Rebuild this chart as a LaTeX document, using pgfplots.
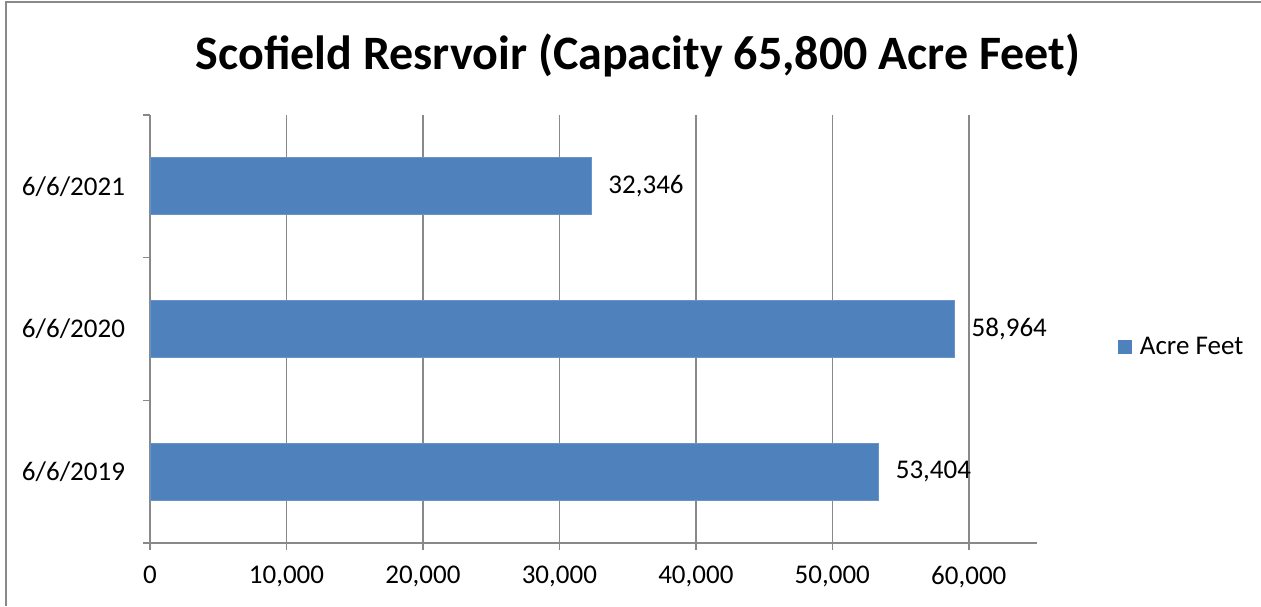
\documentclass[border=0pt]{standalone}
\usepackage{fontspec}
\setmainfont{Carlito}
\usepackage{pgfplots}
\pgfplotsset{compat=1.18}
\definecolor{barblue}{HTML}{4F81BD}
\definecolor{axgray}{HTML}{898989}

\begin{document}
\begin{tikzpicture}
  % page is 1261 x 606 px at 0.5pt per px
  \useasboundingbox (0,0) rectangle (630.5pt,303pt);
  \draw[axgray, line width=0.9pt] (3pt,0) -- (3pt,301.8pt) -- (630.5pt,301.8pt);
  \node[font=\fontsize{24}{29}\selectfont\bfseries] at (319pt,275.5pt)
    {Scofield Resrvoir (Capacity 65,800 Acre Feet)};
  \begin{axis}[
      at={(75pt,31.5pt)}, anchor=south west,
      scale only axis,
      width=443.5pt, height=214pt,
      xbar, bar width=28.5pt,
      xmin=0, xmax=65000,
      ymin=-0.5, ymax=2.5,
      axis x line=bottom, axis y line=left,
      axis line style={axgray, line width=0.8pt, -},
      xtick={0,10000,...,60000},
      ytick={0,1,2},
      yticklabels={6/6/2019, 6/6/2020, 6/6/2021},
      minor ytick={-0.5,0.5,1.5,2.5},
      major tick length=0pt,
      minor tick length=3.5pt,
      tick align=outside,
      extra x ticks={0,10000,...,60000},
      extra x tick labels={},
      extra x tick style={major tick length=3.5pt, grid=none},
      tick style={axgray, line width=0.8pt},
      xmajorgrids,
      grid style={axgray, line width=0.8pt},
      /pgf/number format/assume math mode=true,
      /pgf/number format/1000 sep={,},
      scaled x ticks=false,
      ticklabel style={font=\fontsize{13.5}{16}\selectfont},
      xticklabel style={yshift=-8pt},
      yticklabel style={xshift=-9pt},
      nodes near coords={\pgfmathprintnumber[fixed,precision=0,1000 sep={,}]{\pgfplotspointmeta}},
      nodes near coords style={font=\fontsize{13.5}{16}\selectfont, anchor=west, xshift=5pt},
      point meta=x,
      legend style={at={(1.084,0.458)}, anchor=west, draw=none, fill=none,
        font=\fontsize{13.5}{16}\selectfont},
      legend image code/.code={\fill[barblue, draw=none] (0pt,-3.5pt) rectangle (7pt,3.5pt);
        \path[draw=none, fill=none] (0pt,0pt) rectangle (9pt,0pt);},
      clip=false,
    ]
    \addplot[fill=barblue, draw=barblue!85!white] coordinates {
      (53404,0)
      (58964,1)
      (32346,2)
    };
    \addlegendentry{Acre Feet}
  \end{axis}
\end{tikzpicture}
\end{document}
